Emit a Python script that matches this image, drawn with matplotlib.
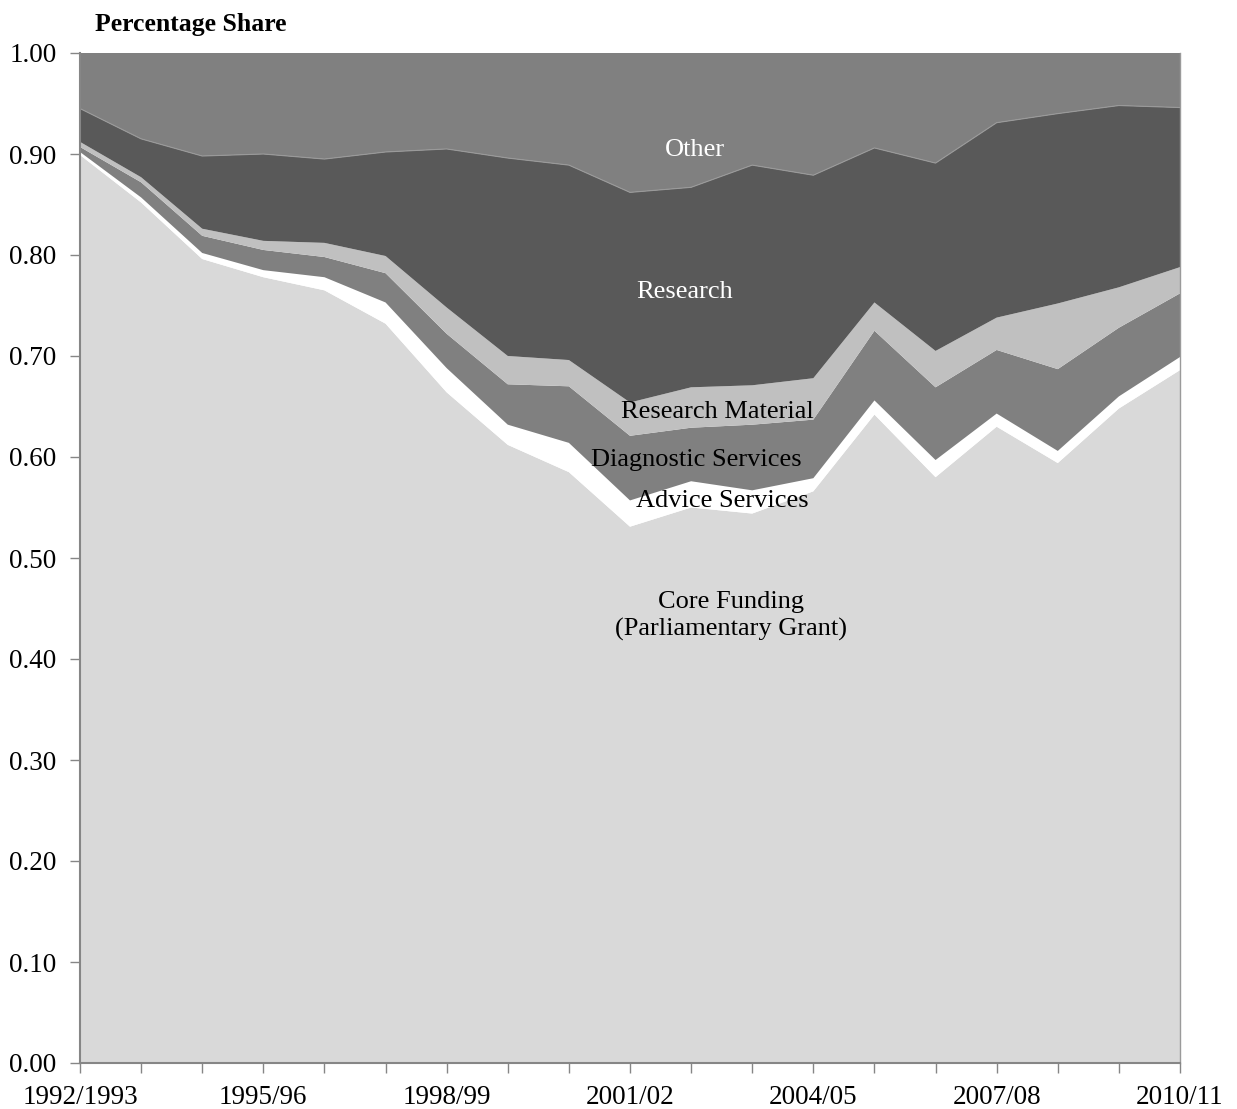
import matplotlib
matplotlib.use("Agg")
import matplotlib.pyplot as plt
import numpy as np

# Financial years
years = ["1992/1993", "1993/94", "1994/95", "1995/96", "1996/97", "1997/98",
         "1998/99", "1999/00", "2000/01", "2001/02", "2002/03", "2003/04",
         "2004/05", "2005/06", "2006/07", "2007/08", "2008/09", "2009/10",
         "2010/11"]

# Income shares by source (fractions of total)
core_funding = [0.899, 0.852, 0.796, 0.778, 0.765, 0.732, 0.664, 0.612, 0.585,
                0.531, 0.550, 0.544, 0.566, 0.642, 0.580, 0.630, 0.594, 0.648,
                0.686]
advice_services = [0.003, 0.005, 0.006, 0.007, 0.013, 0.021, 0.024, 0.020, 0.029,
                   0.026, 0.026, 0.023, 0.013, 0.014, 0.017, 0.013, 0.012, 0.012,
                   0.013]
diagnostic_services = [0.005, 0.015, 0.017, 0.020, 0.020, 0.029, 0.034, 0.040,
                       0.056, 0.064, 0.053, 0.065, 0.058, 0.069, 0.072, 0.063,
                       0.081, 0.068, 0.063]
research_material = [0.005, 0.005, 0.007, 0.009, 0.014, 0.017, 0.026, 0.028,
                     0.026, 0.033, 0.040, 0.039, 0.041, 0.028, 0.036, 0.032,
                     0.065, 0.040, 0.026]
research = [0.033, 0.038, 0.072, 0.086, 0.083, 0.103, 0.157, 0.196, 0.193,
            0.208, 0.198, 0.218, 0.201, 0.153, 0.186, 0.193, 0.188, 0.180,
            0.158]
other = [0.055, 0.085, 0.102, 0.100, 0.105, 0.098, 0.095, 0.104, 0.111, 0.138,
         0.133, 0.111, 0.121, 0.094, 0.109, 0.069, 0.060, 0.052, 0.054]

series = [core_funding, advice_services, diagnostic_services,
          research_material, research, other]
colors = ["#d9d9d9", "#ffffff", "#808080", "#c0c0c0", "#595959", "#808080"]

plt.rcParams["font.family"] = ["Liberation Serif", "DejaVu Serif"]

fig = plt.figure(figsize=(12.37, 11.09), dpi=100)
ax = fig.add_axes([80 / 1237, 46 / 1109, 1100 / 1237, 1010 / 1109])

x = np.arange(len(years))
ax.stackplot(x, *series, colors=colors, linewidth=0)

# faint edge between Research and Other
research_top = np.sum(series[:5], axis=0)
ax.plot(x, research_top, color="#9a9a9a", lw=0.8)

ax.set_xlim(0, len(years) - 1)
ax.set_ylim(0, 1.0)

ax.set_xticks(x)
ax.set_xticklabels([y if i % 3 == 0 else "" for i, y in enumerate(years)],
                   fontsize=19.5)
ax.set_yticks(np.arange(0, 1.01, 0.1))
ax.set_yticklabels([f"{v:.2f}" for v in np.arange(0, 1.01, 0.1)], fontsize=19.5)
ax.tick_params(axis="x", direction="out", length=7, width=1, color="#868686", pad=9)
ax.tick_params(axis="y", direction="out", length=7, width=1, color="#868686", pad=10)

for side in ["left", "bottom"]:
    ax.spines[side].set_color("#868686")
    ax.spines[side].set_linewidth(1.5)
ax.spines["right"].set_color("#9a9a9a")
ax.spines["right"].set_linewidth(1)
ax.spines["top"].set_visible(False)

fig.text(95 / 1237, 1 - 25 / 1109, "Percentage Share", fontsize=18.5,
         fontweight="bold", ha="left", va="center")

def xd(px):
    return (px - 80) / (1100 / (len(years) - 1))

def yd(py):
    return (1063 - py) / 1010

ax.text(xd(695), yd(150), "Other", color="white", fontsize=19, ha="center", va="center")
ax.text(xd(685), yd(292), "Research", color="white", fontsize=19, ha="center", va="center")
ax.text(xd(717), yd(412), "Research Material", color="black", fontsize=19, ha="center", va="center")
ax.text(xd(696), yd(460), "Diagnostic Services", color="black", fontsize=19, ha="center", va="center")
ax.text(xd(722), yd(501), "Advice Services", color="black", fontsize=19, ha="center", va="center")
ax.text(xd(731), yd(616), "Core Funding\n(Parliamentary Grant)", color="black",
        fontsize=19, ha="center", va="center", linespacing=1.25)

fig.savefig("out.png", dpi=100)
